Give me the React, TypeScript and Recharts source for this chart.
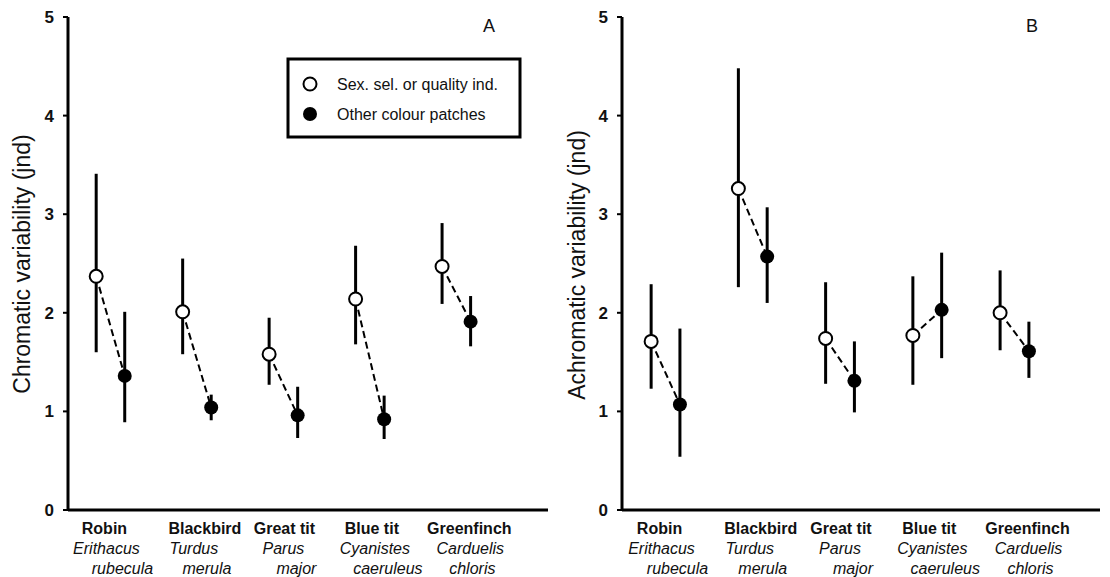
import React from 'react';
import { ComposedChart, Scatter, XAxis, YAxis, ErrorBar } from 'recharts';

const FONT = '"Liberation Sans", Arial, Helvetica, sans-serif';

// ---- Data ----
const CATEGORIES = ['Robin', 'Blackbird', 'Great tit', 'Blue tit', 'Greenfinch'];
const GENUS = ['Erithacus', 'Turdus', 'Parus', 'Cyanistes', 'Carduelis'];
const SPECIES = ['rubecula', 'merula', 'major', 'caeruleus', 'chloris'];
const Y_TICKS = [0, 1, 2, 3, 4, 5];

// Panel A: chromatic variability (jnd)
const CHROM_OPEN = [2.37, 2.01, 1.58, 2.14, 2.47];
const CHROM_OPEN_LOW = [1.6, 1.58, 1.27, 1.68, 2.09];
const CHROM_OPEN_HIGH = [3.41, 2.55, 1.95, 2.68, 2.91];
const CHROM_FILLED = [1.36, 1.04, 0.96, 0.92, 1.91];
const CHROM_FILLED_LOW = [0.89, 0.91, 0.73, 0.72, 1.66];
const CHROM_FILLED_HIGH = [2.01, 1.17, 1.25, 1.16, 2.17];

// Panel B: achromatic variability (jnd)
const ACHROM_OPEN = [1.71, 3.26, 1.74, 1.77, 2.0];
const ACHROM_OPEN_LOW = [1.23, 2.26, 1.28, 1.27, 1.62];
const ACHROM_OPEN_HIGH = [2.29, 4.48, 2.31, 2.37, 2.43];
const ACHROM_FILLED = [1.07, 2.57, 1.31, 2.03, 1.61];
const ACHROM_FILLED_LOW = [0.54, 2.1, 0.99, 1.54, 1.34];
const ACHROM_FILLED_HIGH = [1.84, 3.07, 1.71, 2.61, 1.91];

const LEGEND_LABELS = ['Sex. sel. or quality ind.', 'Other colour patches'];

// ---- Layout / style constants ----
const OFFSET = 0.165;
const LABEL_DX = [
  [-6, -4, 12],
  [8, -3, 10],
  [1, 0, 13],
  [2, 5, 18],
  [13, 14, 16],
];

type Pt = { x: number; y: number; err: [number, number] };

function buildPoints(vals: number[], lows: number[], highs: number[], side: number): Pt[] {
  return vals.map((v, i) => ({ x: i + 1 + side * OFFSET, y: v, err: [v - lows[i], highs[i] - v] }));
}

const OpenDot = (p: any) =>
  p.cx == null ? <g /> : <circle cx={p.cx} cy={p.cy} r={6.5} fill="#fff" stroke="#000" strokeWidth={2} />;
const FilledDot = (p: any) =>
  p.cx == null ? <g /> : <circle cx={p.cx} cy={p.cy} r={7} fill="#000" stroke="none" />;
const NoDot = () => <g />;

const SpeciesTick = (props: any) => {
  const { x, y, payload } = props;
  const i = Math.round(payload.value) - 1;
  if (i < 0 || i >= CATEGORIES.length) return <g />;
  const d = LABEL_DX[i];
  const common = { fontFamily: FONT, fontSize: 16, fill: '#111' } as any;
  return (
    <g>
      <text x={x + d[0]} y={y + 24} textAnchor="middle" fontWeight="bold" {...common}>
        {CATEGORIES[i]}
      </text>
      <text x={x + d[1]} y={y + 44} textAnchor="middle" fontStyle="italic" {...common}>
        {GENUS[i]}
      </text>
      <text x={x + d[2]} y={y + 64} textAnchor="middle" fontStyle="italic" {...common}>
        {SPECIES[i]}
      </text>
    </g>
  );
};

type PanelProps = {
  open: number[];
  openLow: number[];
  openHigh: number[];
  filled: number[];
  filledLow: number[];
  filledHigh: number[];
  yAxisWidth: number;
  right: number;
  domain: [number, number];
};

function Panel(props: PanelProps) {
  const openPts = buildPoints(props.open, props.openLow, props.openHigh, -1);
  const filledPts = buildPoints(props.filled, props.filledLow, props.filledHigh, 1);
  return (
    <ComposedChart
      width={555}
      height={577}
      margin={{ top: 17, right: props.right, bottom: 0, left: 0 }}
    >
      <XAxis
        type="number"
        dataKey="x"
        domain={props.domain}
        allowDataOverflow
        ticks={[1, 2, 3, 4, 5]}
        interval={0}
        height={67}
        tickLine={false}
        tickSize={0}
        tickMargin={0}
        axisLine={{ stroke: '#000', strokeWidth: 3 }}
        tick={(p: any) => <SpeciesTick {...p} />}
      />
      <YAxis
        type="number"
        dataKey="y"
        domain={[0, 5]}
        allowDataOverflow
        ticks={Y_TICKS}
        interval={0}
        width={props.yAxisWidth}
        tickSize={5}
        tickMargin={9}
        tickLine={{ stroke: '#000', strokeWidth: 2 }}
        axisLine={{ stroke: '#000', strokeWidth: 3 }}
        tick={{ fontFamily: FONT, fontSize: 17, fontWeight: 'bold', fill: '#111' }}
      />
      {openPts.map((p, i) => (
        <Scatter
          key={'pair' + i}
          data={[
            { x: p.x, y: p.y },
            { x: filledPts[i].x, y: filledPts[i].y },
          ]}
          fill="#000"
          line={{ stroke: '#000', strokeWidth: 2, strokeDasharray: '7 4' }}
          shape={NoDot}
          isAnimationActive={false}
          legendType="none"
        />
      ))}
      <Scatter data={openPts} shape={OpenDot} fill="#000" isAnimationActive={false}>
        <ErrorBar dataKey="err" direction="y" width={0} stroke="#000" strokeWidth={3} isAnimationActive={false} />
      </Scatter>
      <Scatter data={filledPts} shape={FilledDot} fill="#000" isAnimationActive={false}>
        <ErrorBar dataKey="err" direction="y" width={0} stroke="#000" strokeWidth={3} isAnimationActive={false} />
      </Scatter>
    </ComposedChart>
  );
}

export default function App() {
  return (
    <div style={{ position: 'absolute', left: 0, top: 0, width: 1110, height: 577, background: '#fff' }}>
      <div style={{ position: 'absolute', left: 0, top: 0 }}>
        <Panel
          open={CHROM_OPEN}
          openLow={CHROM_OPEN_LOW}
          openHigh={CHROM_OPEN_HIGH}
          filled={CHROM_FILLED}
          filledLow={CHROM_FILLED_LOW}
          filledHigh={CHROM_FILLED_HIGH}
          yAxisWidth={68}
          right={7}
          domain={[0.509, 6.06]}
        />
      </div>
      <div style={{ position: 'absolute', left: 555, top: 0 }}>
        <Panel
          open={ACHROM_OPEN}
          openLow={ACHROM_OPEN_LOW}
          openHigh={ACHROM_OPEN_HIGH}
          filled={ACHROM_FILLED}
          filledLow={ACHROM_FILLED_LOW}
          filledHigh={ACHROM_FILLED_HIGH}
          yAxisWidth={67}
          right={10}
          domain={[0.501, 5.98]}
        />
      </div>
      <svg
        width={1110}
        height={577}
        style={{ position: 'absolute', left: 0, top: 0, pointerEvents: 'none' }}
        fontFamily={FONT}
      >
        <text x={22} y={264} transform="rotate(-90 22 264)" textAnchor="middle" dominantBaseline="central" fontSize={23} fill="#111">
          Chromatic variability (jnd)
        </text>
        <text x={577} y={265} transform="rotate(-90 577 265)" textAnchor="middle" dominantBaseline="central" fontSize={23} fill="#111">
          Achromatic variability (jnd)
        </text>
        <text x={489} y={32} textAnchor="middle" fontSize={18} fill="#111">A</text>
        <text x={1032} y={32} textAnchor="middle" fontSize={18} fill="#111">B</text>
        <rect x={288} y={59} width={232} height={78} fill="#fff" stroke="#000" strokeWidth={3} />
        <circle cx={310} cy={84} r={6.5} fill="#fff" stroke="#000" strokeWidth={2} />
        <circle cx={310} cy={114} r={7} fill="#000" />
        <text x={337} y={89.5} fontSize={16} fill="#111">{LEGEND_LABELS[0]}</text>
        <text x={337} y={119.5} fontSize={16} fill="#111">{LEGEND_LABELS[1]}</text>
      </svg>
    </div>
  );
}
